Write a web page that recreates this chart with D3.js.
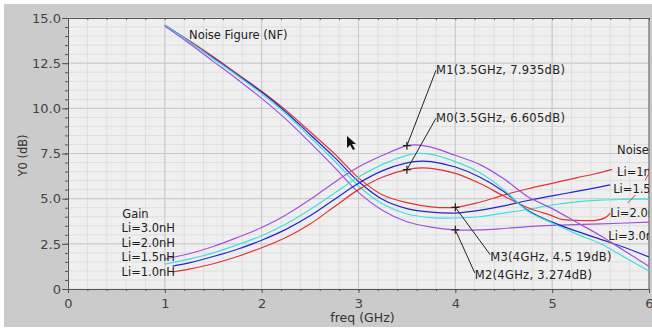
<!DOCTYPE html>
<html>
<head>
<meta charset="utf-8">
<script src="https://cdn.jsdelivr.net/npm/d3@7"></script>
<style>
  body { margin: 0; background: #fff; }
  svg { display: block; font-family: "DejaVu Sans", sans-serif; }
</style>
</head>
<body>
<div id="chart"></div>
<script>
// curves: [freq GHz, dB]
const nfLi10 = [[1,14.6],[1.25,13.75],[1.5,12.85],[1.75,11.9],[2,10.95],[2.25,9.9],[2.5,8.7],[2.75,7.5],[3,6.15],[3.25,5.2],[3.5,4.78],[3.75,4.55],[4,4.519],[4.25,4.8],[4.5,5.2],[4.75,5.55],[5,5.85],[5.25,6.15],[5.5,6.45],[5.62,6.62]];
const nfLi15 = [[1,14.6],[1.25,13.7],[1.5,12.8],[1.75,11.85],[2,10.9],[2.25,9.8],[2.5,8.55],[2.75,7.3],[3,5.95],[3.25,4.95],[3.5,4.45],[3.75,4.25],[4,4.2],[4.25,4.35],[4.5,4.6],[4.75,4.9],[5,5.15],[5.25,5.4],[5.5,5.65],[5.6,5.76]];
const nfLi20 = [[1,14.6],[1.25,13.7],[1.5,12.75],[1.75,11.8],[2,10.8],[2.25,9.7],[2.5,8.4],[2.75,7.1],[3,5.7],[3.25,4.7],[3.5,4.15],[3.75,3.95],[4,3.93],[4.25,4.0],[4.5,4.2],[4.75,4.4],[5,4.65],[5.25,4.82],[5.5,4.92],[5.75,4.96],[6,4.98]];
const nfLi30 = [[1,14.55],[1.25,13.6],[1.5,12.6],[1.75,11.6],[2,10.55],[2.25,9.4],[2.5,8.1],[2.75,6.75],[3,5.35],[3.25,4.35],[3.5,3.72],[3.75,3.42],[4,3.274],[4.25,3.27],[4.5,3.35],[4.75,3.45],[5,3.52],[5.5,3.6],[6,3.7]];

const gainLi10 = [[1.08,0.94],[1.25,1.1],[1.5,1.4],[1.75,1.8],[2,2.28],[2.25,2.85],[2.5,3.6],[2.75,4.55],[3,5.5],[3.25,6.2],[3.5,6.605],[3.65,6.7],[3.75,6.68],[4,6.4],[4.25,5.85],[4.5,5.15],[4.75,4.5],[5,4.05],[5.1,3.85],[5.25,3.8],[5.45,3.8],[5.55,3.95],[5.6,4.2]];
const gainLi15 = [[1.08,1.27],[1.25,1.45],[1.5,1.8],[1.75,2.2],[2,2.7],[2.25,3.3],[2.5,4.05],[2.75,4.95],[3,5.85],[3.25,6.55],[3.5,6.98],[3.65,7.08],[3.75,7.05],[4,6.75],[4.25,6.2],[4.5,5.4],[4.75,4.35],[5,3.7],[5.25,3.2],[5.5,2.75],[5.75,2.3],[6,1.77]];
const gainLi20 = [[1,1.38],[1.25,1.65],[1.5,2.0],[1.75,2.45],[2,2.95],[2.25,3.6],[2.5,4.4],[2.75,5.3],[3,6.2],[3.25,6.9],[3.5,7.4],[3.6,7.5],[3.75,7.45],[4,7.05],[4.25,6.45],[4.5,5.5],[4.75,4.3],[5,3.65],[5.25,3.05],[5.5,2.5],[5.75,1.75],[6,1.0]];
const gainLi30 = [[1,1.66],[1.25,1.95],[1.5,2.35],[1.75,2.85],[2,3.4],[2.25,4.1],[2.5,4.95],[2.75,5.9],[3,6.75],[3.25,7.4],[3.5,7.935],[3.6,7.98],[3.75,7.85],[4,7.4],[4.25,6.9],[4.5,6.1],[4.75,5.1],[5,4.45],[5.25,3.7],[5.5,2.95],[5.75,2.1],[6,1.25]];

const liColors = { "1.0": "#e03434", "1.5": "#2424c8", "2.0": "#3ee0e0", "3.0": "#a050e0" };

const series = [
  { li: "1.0", pts: nfLi10 }, { li: "1.5", pts: nfLi15 },
  { li: "2.0", pts: nfLi20 }, { li: "3.0", pts: nfLi30 },
  { li: "1.0", pts: gainLi10 }, { li: "1.5", pts: gainLi15 },
  { li: "2.0", pts: gainLi20 }, { li: "3.0", pts: gainLi30 },
];

// markers: name, freq, value, label position (data units)
const markers = [
  { name: "M1", f: 3.5, v: 7.935, lx: 3.8, ly: 12.1, text: "M1(3.5GHz, 7.935dB)" },
  { name: "M0", f: 3.5, v: 6.605, lx: 3.8, ly: 9.45, text: "M0(3.5GHz, 6.605dB)" },
  { name: "M3", f: 4, v: 4.519, lx: 4.36, ly: 1.9, text: "M3(4GHz, 4.5 19dB)" },
  { name: "M2", f: 4, v: 3.274, lx: 4.2, ly: 0.9, text: "M2(4GHz, 3.274dB)" },
];

const gainLabels = ["Gain", "Li=3.0nH", "Li=2.0nH", "Li=1.5nH", "Li=1.0nH"];
const gainLabelY = [4.15, 3.38, 2.55, 1.77, 0.94];
const noiseLabels = ["Noise", "Li=1nH", "Li=1.5nH", "Li=2.0nH", "Li=3.0nH"];
const noiseLabelX = [5.67, 5.67, 5.63, 5.6, 5.58];
const noiseLabelY = [7.69, 6.47, 5.53, 4.2, 2.93];
const leaderStrokes = [[[5.96, 6.03], [5.99, 6.31]], [[5.78, 4.76], [5.86, 5.2]]];

class Chart {
  constructor() {
    this.config = { parentElement: "#chart", width: 652, height: 329,
      plot: { left: 68, right: 649, top: 18, bottom: 289 } };
    this.initVis();
  }

  initVis() {
    const vis = this;
    const p = vis.config.plot;

    vis.svg = d3.select(vis.config.parentElement).append("svg")
      .attr("width", vis.config.width).attr("height", vis.config.height);

    vis.svg.append("rect").attr("x", 4).attr("y", 4)
      .attr("width", 648).attr("height", 323).attr("fill", "#cbcbcb");
    vis.svg.append("rect").attr("x", p.left).attr("y", p.top)
      .attr("width", p.right - p.left).attr("height", p.bottom - p.top)
      .attr("fill", "#efefef");

    vis.x = d3.scaleLinear().domain([0, 6]).range([p.left, p.right]);
    vis.y = d3.scaleLinear().domain([0, 15]).range([p.bottom, p.top]);

    vis.svg.append("clipPath").attr("id", "clip").append("rect")
      .attr("x", p.left).attr("y", p.top)
      .attr("width", p.right - p.left).attr("height", p.bottom - p.top);

    // grid
    const grid = vis.svg.append("g");
    const xMinor = d3.range(0, 6.001, 0.2);
    const yMinor = d3.range(0, 15.001, 0.5);
    grid.selectAll(".xm").data(xMinor).join("line")
      .attr("x1", d => vis.x(d)).attr("x2", d => vis.x(d))
      .attr("y1", p.top).attr("y2", p.bottom).attr("stroke", "#dedede");
    grid.selectAll(".ym").data(yMinor).join("line")
      .attr("y1", d => vis.y(d)).attr("y2", d => vis.y(d))
      .attr("x1", p.left).attr("x2", p.right).attr("stroke", "#dedede");
    grid.selectAll(".xM").data(d3.range(1, 6)).join("line")
      .attr("x1", d => vis.x(d)).attr("x2", d => vis.x(d))
      .attr("y1", p.top).attr("y2", p.bottom).attr("stroke", "#c8c8c8");
    grid.selectAll(".yM").data([2.5, 5, 7.5, 10, 12.5]).join("line")
      .attr("y1", d => vis.y(d)).attr("y2", d => vis.y(d))
      .attr("x1", p.left).attr("x2", p.right).attr("stroke", "#c8c8c8");

    // axes
    const xAxis = d3.axisBottom(vis.x).tickValues(d3.range(0, 7)).tickSize(4).tickPadding(6)
      .tickFormat(d3.format("d"));
    const xMinorAxis = d3.axisBottom(vis.x).tickValues(xMinor).tickSize(2).tickFormat("");
    const yAxis = d3.axisLeft(vis.y).tickValues(d3.range(0, 15.1, 2.5)).tickSize(6).tickPadding(1)
      .tickFormat(d => d === 0 ? "0" : d3.format(".1f")(d));
    const yMinorAxis = d3.axisLeft(vis.y).tickValues(yMinor).tickSize(3).tickFormat("");

    const styleAxis = g => {
      g.select(".domain").attr("stroke", "#555");
      g.selectAll(".tick line").attr("stroke", "#555");
      g.selectAll(".tick text").attr("fill", "#444").attr("font-size", 13)
        .attr("font-family", "DejaVu Sans");
    };
    vis.svg.append("g").attr("transform", `translate(0,${p.bottom})`).call(xMinorAxis).call(styleAxis);
    vis.svg.append("g").attr("transform", `translate(0,${p.bottom})`).call(xAxis).call(styleAxis);
    vis.svg.append("g").attr("transform", `translate(${p.left},0)`).call(yMinorAxis).call(styleAxis);
    vis.svg.append("g").attr("transform", `translate(${p.left},0)`).call(yAxis).call(styleAxis);

    // top and right frame with small inward ticks
    const topAxis = d3.axisBottom(vis.x).tickValues(xMinor).tickSize(2).tickFormat("");
    vis.svg.append("g").attr("transform", `translate(0,${p.top})`).call(topAxis).call(styleAxis);
    vis.svg.append("line").attr("x1", p.right).attr("x2", p.right)
      .attr("y1", p.top).attr("y2", p.bottom).attr("stroke", "#555");

    vis.svg.append("text").attr("x", (p.left + p.right) / 2 + 4).attr("y", 322)
      .attr("text-anchor", "middle").attr("font-size", 12.5).attr("fill", "#333")
      .text("freq (GHz)");
    vis.svg.append("text").attr("transform", `translate(27,${(p.top + p.bottom) / 2 + 2}) rotate(-90)`)
      .attr("text-anchor", "middle").attr("font-size", 11.5).attr("fill", "#333")
      .text("Y0 (dB)");

    vis.plot = vis.svg.append("g").attr("clip-path", "url(#clip)");
    vis.updateVis();
  }

  updateVis() {
    const vis = this;
    const line = d3.line().x(d => vis.x(d[0])).y(d => vis.y(d[1]))
      .curve(d3.curveCatmullRom.alpha(0.5));

    vis.plot.selectAll(".curve").data(series).join("path")
      .attr("class", "curve")
      .attr("d", d => line(d.pts))
      .attr("fill", "none")
      .attr("stroke", d => liColors[d.li])
      .attr("stroke-width", 1.2);

    vis.plot.selectAll(".stroke").data(leaderStrokes).join("path")
      .attr("class", "stroke")
      .attr("d", d => d3.line().x(q => vis.x(q[0])).y(q => vis.y(q[1]))(d))
      .attr("stroke", liColors["1.0"]).attr("fill", "none");

    const txt = { "font-size": 11.5, fill: "#222" };

    // markers
    const mk = vis.plot.selectAll(".marker").data(markers).join("g").attr("class", "marker");
    mk.append("line").attr("x1", d => vis.x(d.f)).attr("y1", d => vis.y(d.v))
      .attr("x2", d => vis.x(d.lx)).attr("y2", d => vis.y(d.ly))
      .attr("stroke", "#222").attr("stroke-width", 1);
    mk.append("path")
      .attr("d", d => `M${vis.x(d.f) - 4},${vis.y(d.v)}h8M${vis.x(d.f)},${vis.y(d.v) - 4}v8`)
      .attr("stroke", "#222").attr("stroke-width", 1.2);
    mk.append("text").attr("x", d => vis.x(d.lx)).attr("y", d => vis.y(d.ly) + 4 - (d.name === "M3" || d.name === "M2" ? -2 : 0))
      .attr("font-size", txt["font-size"]).attr("fill", txt.fill)
      .attr("letter-spacing", 0.3)
      .text(d => d.text);

    vis.plot.append("text").attr("x", vis.x(1.25)).attr("y", vis.y(14.06) + 4)
      .attr("font-size", txt["font-size"]).attr("fill", txt.fill).text("Noise Figure (NF)");

    vis.plot.selectAll(".glabel").data(gainLabels).join("text")
      .attr("class", "glabel")
      .attr("x", (d, i) => i === 0 ? vis.x(0.56) : vis.x(1.105))
      .attr("text-anchor", (d, i) => i === 0 ? "start" : "end")
      .attr("y", (d, i) => vis.y(gainLabelY[i]) + 4)
      .attr("font-size", txt["font-size"]).attr("fill", txt.fill)
      .text(d => d);

    vis.plot.selectAll(".nlabel").data(noiseLabels).join("text")
      .attr("class", "nlabel")
      .attr("x", (d, i) => vis.x(noiseLabelX[i]))
      .attr("y", (d, i) => vis.y(noiseLabelY[i]) + 4)
      .attr("font-size", txt["font-size"]).attr("fill", txt.fill)
      .text(d => d);

    // mouse pointer left on the plot
    vis.svg.append("path")
      .attr("transform", "translate(347,136)")
      .attr("d", "M0,0L0,12L3,9L6,14L8,13L5,8L9,8Z")
      .attr("fill", "#111");
  }
}

new Chart();
</script>
</body>
</html>
